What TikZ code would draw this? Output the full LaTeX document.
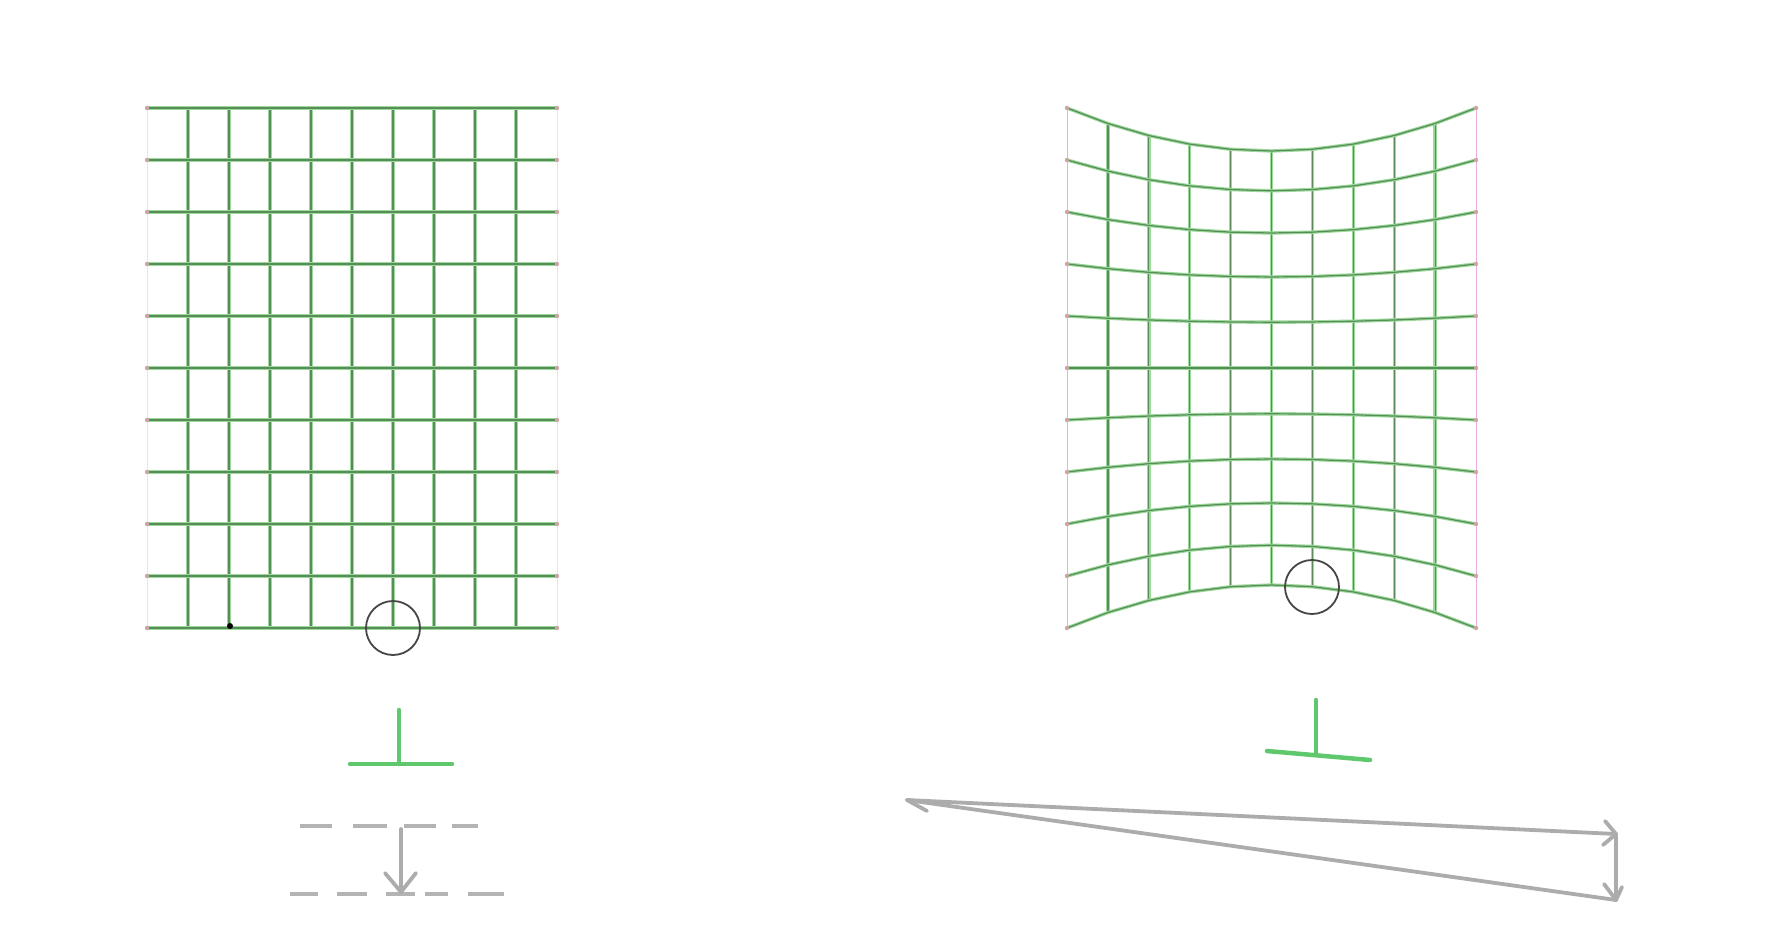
\documentclass[tikz,border=0pt]{standalone}
\definecolor{gcore}{RGB}{88,140,88}
\definecolor{ghalo}{RGB}{155,218,155}
\definecolor{edgec}{RGB}{205,165,165}
\definecolor{bordl}{RGB}{235,228,228}
\definecolor{bordr}{RGB}{235,175,228}
\definecolor{ringc}{RGB}{70,70,70}
\definecolor{tgreen}{RGB}{95,200,108}
\definecolor{agray}{RGB}{172,172,172}
\definecolor{dgray}{RGB}{180,180,180}
\begin{document}
\begin{tikzpicture}[x=1pt,y=-1pt,
  declare function={sv(\r)=(5-\r)/5; Dv(\r)=30.5*sv(\r)+12.5*sv(\r)*sv(\r)*sv(\r);
    prof(\c)=1-((\c-5)/5)*((\c-5)/5); yr(\r,\c)=108+52*\r+Dv(\r)*prof(\c);},
  gl/.style={draw=gcore, line width=1.2pt, line join=round,
    preaction={draw=ghalo, line width=3.4pt, line join=round}},
  edgedot/.style={fill=edgec},
  borderL/.style={draw=bordl, line width=0.8pt},
  borderR/.style={draw=bordr, line width=0.9pt},
  ring/.style={draw=ringc, line width=1.8pt},
  tbar/.style={draw=tgreen, line width=4.5pt, line cap=round},
  garrow/.style={draw=agray, line width=3.8pt, line cap=round, line join=round},
  gdash/.style={draw=dgray, line width=3.2pt}
]
\useasboundingbox (0,0) rectangle (1769,944);
\fill[white] (0,0) rectangle (1769,944);

% ---------- left grid ----------
\draw[borderL] (147,108) -- (147,628);
\draw[borderL] (557,108) -- (557,628);
\foreach \c in {1,...,9} { \draw[gl] ({147+41*\c},108) -- ({147+41*\c},628); }
\foreach \r in {0,...,10} { \draw[gl] (147,{108+52*\r}) -- (557,{108+52*\r}); }
\foreach \r in {0,...,10} {
  \fill[edgedot] (147,{108+52*\r}) circle (2.2);
  \fill[edgedot] (557,{108+52*\r}) circle (2.2);
}
\fill[black] (230,626) circle (3);
\draw[ring] (393,628) circle (27);

% ---------- right grid ----------
\draw[borderR] (1067,108) -- (1067,628);
\draw[borderR] (1476,108) -- (1476,628);
\foreach \c in {1,...,9} {
  \draw[gl] plot[variable=\t, domain=0:10, samples=11] ({1067+40.9*\c},{yr(\t,\c)});
}
\foreach \r in {0,...,10} {
  \draw[gl] plot[variable=\t, domain=0:10, samples=11] ({1067+40.9*\t},{yr(\r,\t)});
}
\foreach \r in {0,...,10} {
  \fill[edgedot] (1067,{108+52*\r}) circle (2.2);
  \fill[edgedot] (1476,{108+52*\r}) circle (2.2);
}
\draw[ring] (1312,587) circle (27);

% ---------- green T marks ----------
\draw[tbar] (399,710) -- (399,764);
\draw[tbar] (350,764) -- (452,764);
\draw[tbar] (1316,700) -- (1316,755);
\draw[tbar] (1267,751) -- (1370,760);

% ---------- dashed lines and arrow (left) ----------
\foreach \a/\b in {300/332,353/387,404/436,452/478} { \draw[gdash] (\a,826) -- (\b,826); }
\foreach \a/\b in {290/318,337/367,386/415,425/448,468/504} { \draw[gdash] (\a,894) -- (\b,894); }
\coordinate (la) at (401,829);
\coordinate (lb) at (401,892);
\draw[garrow] (la) -- (lb);
\draw[garrow] (385,873) -- (lb) -- (416,873);

% ---------- vector triangle (right) ----------
\coordinate (p0) at (907,800);
\coordinate (p1) at (1616,834);
\coordinate (p2) at (1616,900);
\draw[garrow] (p0) -- (p1);
\draw[garrow] (1605,821) -- (p1) -- (1603,845);
\draw[garrow] (p1) -- (p2);
\draw[garrow] (1604,884) -- (p2) -- (1622,887);
\draw[garrow] (p0) -- (p2);
\draw[garrow] (p0) -- (927,811);
\end{tikzpicture}
\end{document}
